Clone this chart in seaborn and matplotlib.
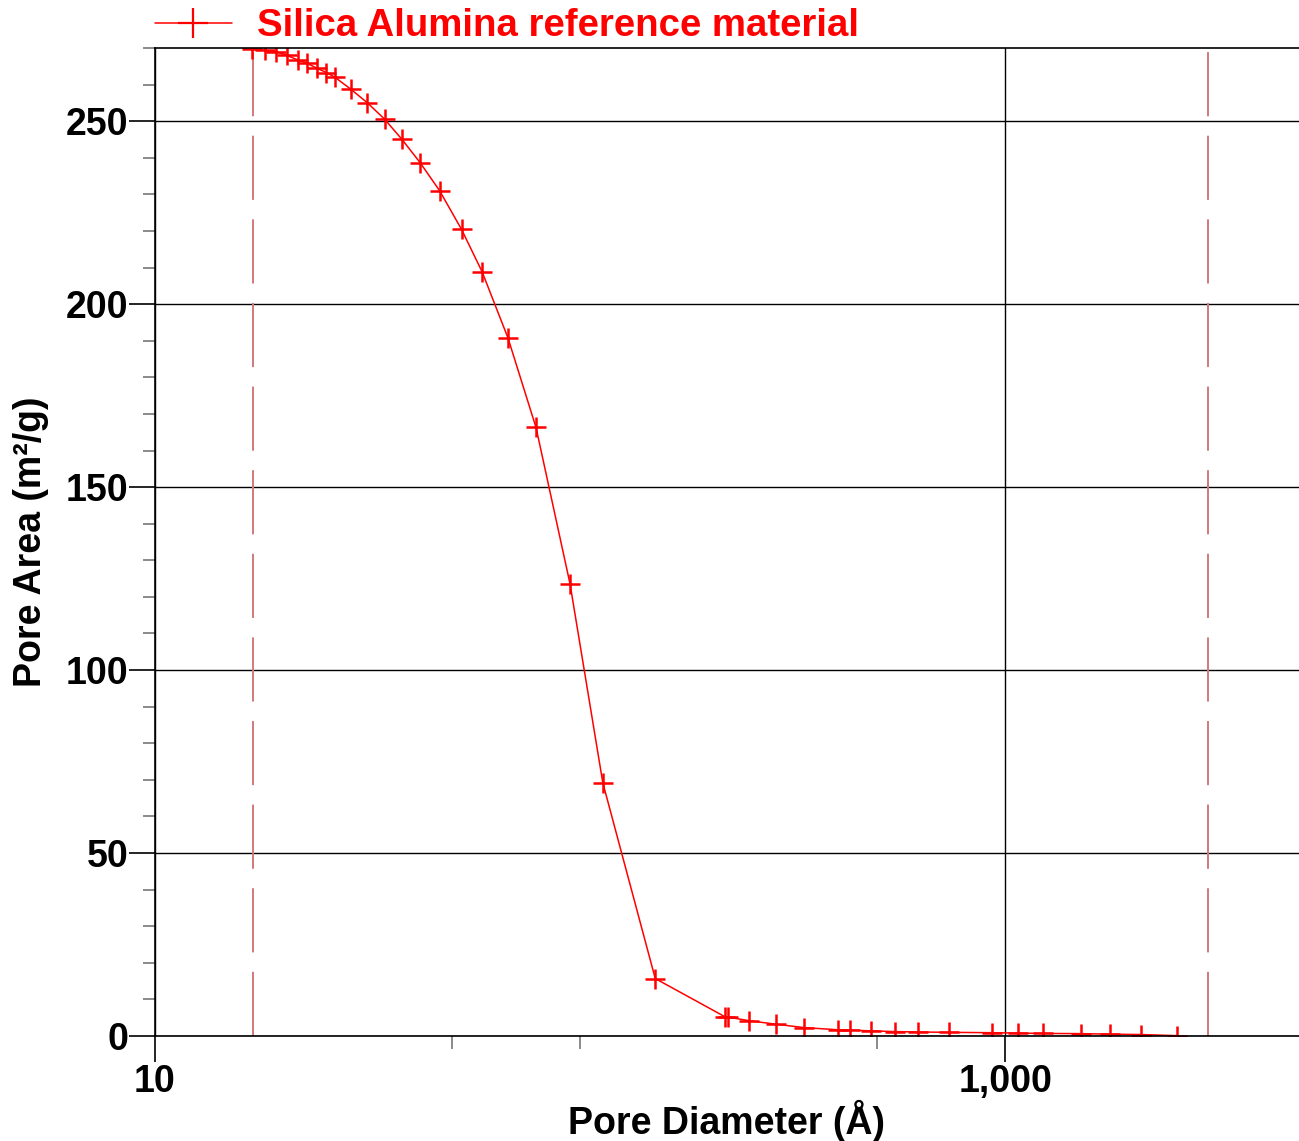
import numpy as np
import pandas as pd
import matplotlib
matplotlib.use('Agg')
import matplotlib.pyplot as plt
import seaborn as sns
from matplotlib.ticker import FixedLocator, FuncFormatter, MultipleLocator

# dados
pore_diameter = [16.9, 18.1, 19.3, 20.4, 21.7, 22.8, 24.1, 25.3, 26.5, 28.9,
                 31.6, 34.7, 38.1, 42.0, 46.7, 52.6, 58.8, 67.6, 78.7, 94.6,
                 113.0, 150.1, 218.6, 222.0, 248.8, 289.3, 335.9, 403.8, 430.6,
                 484.0, 551.0, 623.0, 737.0, 930.0, 1070.0, 1228.0, 1501.0,
                 1764.0, 2079.0, 2527.0]
pore_area = [269.7, 269.4, 269.0, 268.0, 266.7, 265.8, 264.4, 263.3, 262.0, 258.7,
             255.0, 250.5, 245.0, 238.7, 231.0, 220.4, 208.8, 190.8, 166.3, 123.6,
             69.2, 15.7, 5.3, 5.2, 4.2, 3.2, 2.3, 1.7, 1.6,
             1.4, 1.2, 1.1, 1.0, 0.9, 0.8, 0.7, 0.65,
             0.5, 0.4, 0.1]
limits = [17, 3000]
label = 'Silica Alumina reference material'

df = pd.DataFrame({'d': pore_diameter, 'a': pore_area})

sns.set_style('white')
plt.rcParams['font.family'] = ['Liberation Sans', 'DejaVu Sans']
plt.rcParams['font.weight'] = 'bold'
plt.rcParams['text.color'] = 'black'
plt.rcParams['axes.labelcolor'] = 'black'
plt.rcParams['xtick.color'] = 'black'
plt.rcParams['ytick.color'] = 'black'

fig = plt.figure(figsize=(12.99, 11.41), dpi=100)
ax = fig.add_axes([155 / 1299, 1 - 1036 / 1141, 1144 / 1299, 988 / 1141])

sns.lineplot(data=df, x='d', y='a', ax=ax, color='red', linewidth=1.1,
             marker='+', markersize=15, markeredgewidth=1.8,
             markeredgecolor='red', label=label, sort=False)

for v in limits:
    ax.axvline(v, color='#d07a7a', linewidth=1.4, dashes=(33, 10), zorder=1)

ax.set_xscale('log')
ax.set_xlim(10, 4900)
ax.set_ylim(0, 270)

ax.xaxis.set_major_locator(FixedLocator([10, 1000]))
ax.xaxis.set_minor_locator(FixedLocator([50, 100, 500]))
ax.xaxis.set_major_formatter(FuncFormatter(lambda v, p: '{:,.0f}'.format(v)))
ax.xaxis.set_minor_formatter(FuncFormatter(lambda v, p: ''))
ax.yaxis.set_major_locator(MultipleLocator(50))
ax.yaxis.set_minor_locator(MultipleLocator(10))

ax.grid(True, which='major', color='black', linewidth=1.0)
ax.tick_params(axis='both', which='major', length=19, width=1.2, colors='black',
               labelsize=27, pad=1, direction='out')
ax.tick_params(axis='y', which='major', pad=0)
ax.tick_params(axis='both', which='minor', length=9, width=1.2, color='#777777',
               direction='out')
ax.tick_params(left=True, bottom=True, which='both')

for s in ['left', 'bottom', 'top']:
    ax.spines[s].set_color('black')
    ax.spines[s].set_linewidth(1.2)
ax.spines['right'].set_visible(False)

ax.set_xlabel('Pore Diameter (Å)', fontsize=27, fontweight='bold', labelpad=0)
ax.set_ylabel('Pore Area (m²/g)', fontsize=27, fontweight='bold', labelpad=12)

leg = ax.legend(loc='center left', bbox_to_anchor=(155 / 1299, 1 - 26 / 1141),
                bbox_transform=fig.transFigure, frameon=False,
                prop={'size': 27.6, 'weight': 'bold'}, handlelength=2.0,
                handletextpad=0.65, borderaxespad=0, borderpad=0)
for t in leg.get_texts():
    t.set_color('red')
for h in leg.legend_handles:
    h.set_markersize(22)
    h.set_markeredgewidth(1.6)

fig.savefig('out.png', dpi=100)
